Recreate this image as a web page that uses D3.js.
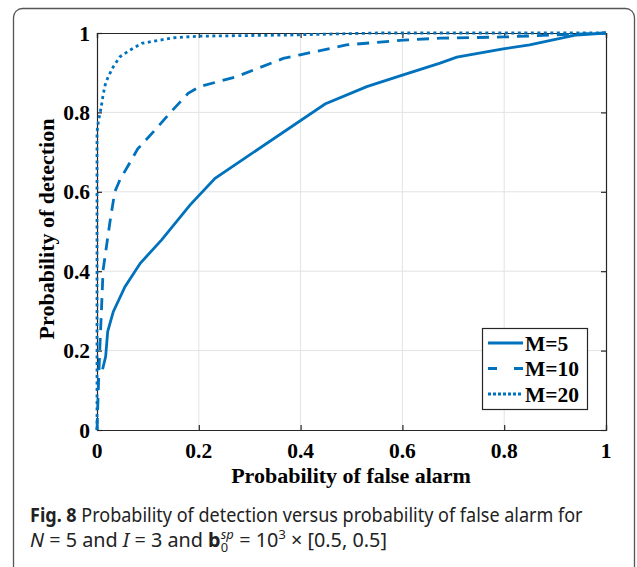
<!DOCTYPE html>
<html>
<head>
<meta charset="utf-8">
<script src="https://cdn.jsdelivr.net/npm/d3@7"></script>
<style>
  body { margin: 0; background: #fff; }
  svg { display: block; }
</style>
</head>
<body>
<svg id="drawspace" width="637" height="567"></svg>
<script>
// ROC curves (Pfa, Pd)
let pfaM5 = [0.011, 0.017, 0.021, 0.032, 0.055, 0.085, 0.127, 0.183, 0.232, 0.30, 0.448, 0.53, 0.60, 0.674, 0.707, 0.798, 0.85, 0.942, 1.0];
let pdM5  = [0.153, 0.185, 0.248, 0.298, 0.361, 0.42, 0.479, 0.567, 0.634, 0.693, 0.821, 0.865, 0.894, 0.924, 0.939, 0.96, 0.97, 0.995, 1.0];

let pfaM10 = [0.0, 0.003, 0.006, 0.009, 0.012, 0.026, 0.035, 0.045, 0.080, 0.117, 0.143, 0.179, 0.202, 0.274, 0.366, 0.399, 0.49, 0.602, 0.674, 0.8, 0.9, 1.0];
let pdM10  = [0.0, 0.12, 0.22, 0.31, 0.403, 0.529, 0.60, 0.63, 0.708, 0.76, 0.798, 0.848, 0.865, 0.89, 0.936, 0.945, 0.97, 0.982, 0.987, 0.99, 0.995, 1.0];

let pfaM20 = [0.0, 0.0, 0.003, 0.006, 0.009, 0.012, 0.016, 0.022, 0.032, 0.045, 0.065, 0.088, 0.15, 0.2, 0.38, 0.55, 1.0];
let pdM20  = [0.0, 0.75, 0.78, 0.798, 0.819, 0.844, 0.869, 0.89, 0.915, 0.94, 0.957, 0.974, 0.988, 0.992, 0.995, 1.0, 1.0];

let seriesNames = ["M=5", "M=10", "M=20"];
let tickVals = [0, 0.2, 0.4, 0.6, 0.8, 1];
let tickLabels = ["0", "0.2", "0.4", "0.6", "0.8", "1"];

let drawSpace = d3.select("#drawspace");
let blue = "#0072BD";
let serif = "'Liberation Serif', 'Times New Roman', serif";
let sans = "'Noto Sans', 'Open Sans', sans-serif";

// outer figure frame (rounded, runs off the bottom)
drawSpace.append("rect")
  .attr("x", 13.5).attr("y", 8.5)
  .attr("width", 621).attr("height", 620)
  .attr("rx", 9)
  .attr("fill", "none")
  .attr("stroke", "#555")
  .attr("stroke-width", 1.3);

let margin = { left: 97, top: 33, right: 606, bottom: 430 };

let xScale = d3.scaleLinear().domain([0, 1]).range([margin.left, margin.right]);
let yScale = d3.scaleLinear().domain([0, 1]).range([margin.bottom, margin.top]);

// grid
drawSpace.append("g")
  .selectAll("line")
  .data(tickVals.slice(1, -1))
  .enter()
  .append("line")
  .attr("x1", (d) => xScale(d)).attr("x2", (d) => xScale(d))
  .attr("y1", margin.top).attr("y2", margin.bottom)
  .attr("stroke", "#e3e3e3").attr("stroke-width", 1);
drawSpace.append("g")
  .selectAll("line")
  .data(tickVals.slice(1, -1))
  .enter()
  .append("line")
  .attr("y1", (d) => yScale(d)).attr("y2", (d) => yScale(d))
  .attr("x1", margin.left).attr("x2", margin.right)
  .attr("stroke", "#e3e3e3").attr("stroke-width", 1);

// axes box with inward ticks on all sides
let axisCol = "#262626";
let tickLen = 5;
let bottomAxis = d3.axisBottom(xScale).tickValues(tickVals).tickSize(-tickLen).tickFormat("");
let topAxis = d3.axisTop(xScale).tickValues(tickVals).tickSize(-tickLen).tickFormat("");
let leftAxis = d3.axisLeft(yScale).tickValues(tickVals).tickSize(-tickLen).tickFormat("");
let rightAxis = d3.axisRight(yScale).tickValues(tickVals).tickSize(-tickLen).tickFormat("");

drawSpace.append("g").attr("transform", "translate(0," + margin.bottom + ")").call(bottomAxis);
drawSpace.append("g").attr("transform", "translate(0," + margin.top + ")").call(topAxis);
drawSpace.append("g").attr("transform", "translate(" + margin.left + ",0)").call(leftAxis);
drawSpace.append("g").attr("transform", "translate(" + margin.right + ",0)").call(rightAxis);
drawSpace.selectAll(".domain").attr("stroke", axisCol).attr("stroke-width", 1.2);
drawSpace.selectAll(".tick line").attr("stroke", axisCol).attr("stroke-width", 1.2);

// tick labels
drawSpace.append("g")
  .selectAll("text")
  .data(tickVals)
  .enter()
  .append("text")
  .attr("x", (d) => xScale(d))
  .attr("y", 458)
  .attr("text-anchor", "middle")
  .attr("font-family", serif).attr("font-weight", "bold").attr("font-size", 21.5)
  .text((d, i) => tickLabels[i]);
drawSpace.append("g")
  .selectAll("text")
  .data(tickVals)
  .enter()
  .append("text")
  .attr("x", 90)
  .attr("y", (d) => yScale(d) + 7.5)
  .attr("text-anchor", "end")
  .attr("font-family", serif).attr("font-weight", "bold").attr("font-size", 21.5)
  .text((d, i) => tickLabels[i]);

// axis titles
drawSpace.append("text")
  .attr("x", 351).attr("y", 483)
  .attr("text-anchor", "middle")
  .attr("font-family", serif).attr("font-weight", "bold").attr("font-size", 22)
  .text("Probability of false alarm");
drawSpace.append("text")
  .attr("transform", "translate(54,229) rotate(-90)")
  .attr("text-anchor", "middle")
  .attr("font-family", serif).attr("font-weight", "bold").attr("font-size", 22)
  .text("Probability of detection");

// curves
let series = [
  { name: seriesNames[0], x: pfaM5, y: pdM5, dash: null },
  { name: seriesNames[1], x: pfaM10, y: pdM10, dash: "12,8" },
  { name: seriesNames[2], x: pfaM20, y: pdM20, dash: "3,3.5" },
];
let line = d3.line()
  .x((d) => xScale(d[0]))
  .y((d) => yScale(d[1]));

series.forEach((s) => {
  drawSpace.append("path")
    .datum(s.x.map((v, i) => [v, s.y[i]]))
    .attr("fill", "none")
    .attr("stroke", blue)
    .attr("stroke-width", 2.8)
    .attr("stroke-dasharray", s.dash)
    .attr("d", line);
});

// legend
let legend = drawSpace.append("g");
legend.append("rect")
  .attr("x", 482.5).attr("y", 328.5)
  .attr("width", 105).attr("height", 81)
  .attr("fill", "#fff")
  .attr("stroke", axisCol).attr("stroke-width", 1.2);
let legendY = d3.scalePoint().domain(seriesNames).range([343, 394]);
series.forEach((s) => {
  let yy = legendY(s.name);
  legend.append("line")
    .attr("x1", 488).attr("x2", 523)
    .attr("y1", yy).attr("y2", yy)
    .attr("stroke", blue).attr("stroke-width", 2.8)
    .attr("stroke-dasharray", s.dash ? (s.name == "M=10" ? "9,17" : "3,2") : null);
  legend.append("text")
    .attr("x", 525).attr("y", yy + 7.5)
    .attr("font-family", serif).attr("font-weight", "bold").attr("font-size", 21.5)
    .text(s.name);
});

// caption, squeezed horizontally to the condensed look of the original
function fitWidth(g, width) {
  let w = g.node().getBBox().width;
  let x0 = 30;
  g.attr("transform", "translate(" + x0 + ",0) scale(" + width / w + ",1) translate(" + -x0 + ",0)");
}

let cap1g = drawSpace.append("g");
let cap1 = cap1g.append("text")
  .attr("x", 30).attr("y", 522)
  .attr("font-family", sans).attr("font-size", 20).attr("fill", "#222");
cap1.append("tspan").attr("font-weight", "bold").text("Fig. 8");
cap1.append("tspan").text(" Probability of detection versus probability of false alarm for");
fitWidth(cap1g, 553);

let cap2g = drawSpace.append("g");
let cap2 = cap2g.append("text")
  .attr("x", 30).attr("y", 547)
  .attr("font-family", sans).attr("font-size", 20).attr("fill", "#222");
cap2.append("tspan").attr("font-style", "italic").text("N");
cap2.append("tspan").text(" = 5 and ");
cap2.append("tspan").attr("font-style", "italic").text("I");
cap2.append("tspan").text(" = 3 and ");
cap2.append("tspan").attr("font-weight", "bold").text("b");
cap2.append("tspan").attr("font-style", "italic").attr("font-size", 13).attr("dy", -8).text("sp");
cap2.append("tspan").attr("font-size", 13).attr("dx", -13).attr("dy", 13).text("0");
cap2.append("tspan").attr("dy", -5).attr("dx", 6).text(" = 10");
cap2.append("tspan").attr("font-size", 13).attr("dy", -8).text("3");
cap2.append("tspan").attr("dy", 8).text(" × [0.5, 0.5]");
fitWidth(cap2g, 357);
</script>
</body>
</html>
